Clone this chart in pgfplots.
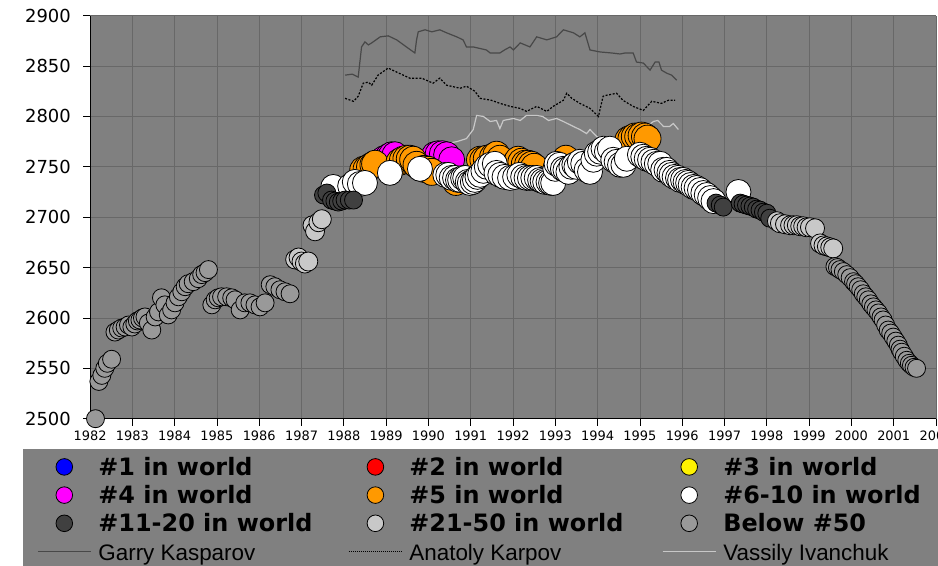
\documentclass[border=0pt]{standalone}
\usepackage{pgfplots}
\pgfplotsset{compat=1.18}
\usepackage{fontspec}
\setmainfont{DejaVu Sans}
\newfontfamily\namefont{Liberation Sans}
\definecolor{bgray}{HTML}{808080}
\definecolor{gridgray}{HTML}{686868}
\definecolor{cB}{HTML}{999999}
\definecolor{cL}{HTML}{C8C8C8}
\definecolor{cD}{HTML}{404040}
\definecolor{cO}{HTML}{FF9900}
\definecolor{cM}{HTML}{FF00FF}
\definecolor{kasp}{HTML}{484848}
\definecolor{ivan}{HTML}{C8C8C8}
\newcommand{\lb}{\fontsize{24}{24}\selectfont\bfseries}
\newcommand{\lnm}{\namefont\fontsize{22.5}{22.5}\selectfont}
\pgfplotstableread{
x y
1982.13 2500
1982.21 2537
1982.28 2543
1982.35 2550
1982.41 2555
1982.51 2559
1982.59 2586
1982.67 2588
1982.75 2590
1982.83 2591
1982.91 2593
1982.99 2591
1983.06 2594
1983.12 2597
1983.18 2598
1983.24 2600
1983.30 2601
1983.38 2595
1983.46 2588
1983.54 2601
1983.62 2606
1983.69 2620
1983.77 2613
1983.85 2603
1983.93 2608
1984.01 2615
1984.09 2621
1984.17 2626
1984.25 2631
1984.32 2634
1984.44 2636
1984.56 2639
1984.64 2643
1984.72 2645
1984.80 2648
1984.88 2613
1984.96 2618
1985.03 2620
1985.11 2621
1985.23 2621
1985.35 2620
1985.43 2618
1985.55 2608
1985.66 2615
1985.78 2615
1985.90 2613
1986.02 2611
1986.14 2615
1986.26 2633
1986.37 2631
1986.49 2628
1986.61 2626
1986.73 2624
1999.61 2651
1999.67 2650
1999.73 2648
1999.81 2646
1999.89 2643
1999.97 2640
2000.05 2636
2000.10 2634
2000.16 2631
2000.22 2628
2000.28 2624
2000.34 2621
2000.40 2618
2000.46 2614
2000.52 2611
2000.58 2608
2000.64 2605
2000.70 2601
2000.75 2598
2000.81 2593
2000.87 2588
2000.93 2585
2000.99 2581
2001.05 2577
2001.11 2573
2001.15 2569
2001.19 2566
2001.25 2562
2001.31 2558
2001.37 2555
2001.42 2553
2001.48 2551
2001.54 2550
}\below
\pgfplotstableread{
x y
1986.85 2658
1986.93 2660
1987.00 2656
1987.08 2654
1987.16 2656
1987.26 2692
1987.32 2686
1987.40 2695
1987.48 2698
1998.24 2696
1998.31 2694
1998.43 2693
1998.55 2692
1998.63 2692
1998.71 2692
1998.79 2691
1998.86 2691
1998.94 2690
1999.02 2690
1999.14 2689
1999.26 2674
1999.34 2672
1999.42 2671
1999.50 2670
1999.57 2669
}\lgray
\pgfplotstableread{
x y
1987.52 2722
1987.60 2724
1987.71 2717
1987.79 2716
1987.87 2715
1987.95 2716
1988.03 2717
1988.13 2717
1988.23 2717
1996.80 2714
1996.90 2712
1996.97 2710
1997.37 2714
1997.44 2713
1997.52 2712
1997.60 2711
1997.68 2710
1997.76 2708
1997.84 2707
1997.92 2705
1998.00 2704
1998.07 2699
}\dgray
\pgfplotstableread{
x y
1987.75 2730
1988.15 2731
1988.26 2735
1988.38 2733
1988.50 2734
1989.09 2744
1989.80 2748
1990.40 2742
1990.47 2742
1990.55 2739
1990.63 2739
1990.70 2737
1990.75 2737
1990.82 2739
1990.87 2739
1990.93 2735
1990.98 2734
1991.05 2735
1991.10 2737
1991.16 2740
1991.22 2742
1991.30 2746
1991.38 2750
1991.46 2752
1991.57 2753
1991.61 2744
1991.70 2742
1991.80 2740
1991.93 2739
1992.05 2740
1992.15 2742
1992.24 2740
1992.32 2739
1992.40 2739
1992.48 2739
1992.56 2739
1992.64 2737
1992.70 2736
1992.76 2735
1992.84 2735
1992.90 2734
1992.95 2734
1993.00 2748
1993.03 2753
1993.10 2752
1993.18 2748
1993.24 2747
1993.31 2745
1993.38 2750
1993.45 2752
1993.50 2750
1993.58 2755
1993.66 2753
1993.74 2747
1993.82 2745
1993.90 2757
1993.98 2763
1994.06 2765
1994.14 2768
1994.22 2765
1994.29 2768
1994.37 2757
1994.45 2755
1994.53 2752
1994.61 2752
1994.69 2758
1995.00 2762
1995.08 2760
1995.16 2758
1995.24 2757
1995.32 2755
1995.40 2753
1995.48 2753
1995.55 2747
1995.63 2747
1995.70 2744
1995.75 2742
1995.82 2740
1995.90 2739
1995.95 2737
1996.02 2737
1996.08 2735
1996.14 2734
1996.20 2732
1996.27 2730
1996.34 2729
1996.42 2727
1996.50 2724
1996.58 2722
1996.66 2719
1996.74 2716
1997.33 2725
}\white
\pgfplotstableread{
x y
1988.46 2747
1988.54 2748
1988.62 2750
1988.70 2752
1988.74 2753
1989.32 2755
1989.40 2757
1989.48 2758
1989.56 2758
1989.64 2757
1989.72 2752
1989.90 2748
1990.00 2747
1990.08 2745
1990.65 2735
1991.22 2757
1991.30 2757
1991.38 2758
1991.53 2760
1991.61 2762
1991.69 2758
1992.05 2753
1992.12 2757
1992.20 2755
1992.28 2753
1992.36 2753
1992.44 2752
1992.50 2750
1993.25 2758
1994.73 2777
1994.80 2778
1994.88 2780
1994.96 2780
1995.04 2781
1995.12 2780
1995.18 2778
}\orange
\pgfplotstableread{
x y
1988.78 2753
1988.86 2755
1988.95 2758
1989.05 2760
1989.13 2762
1989.21 2762
1990.15 2762
1990.23 2763
1990.33 2763
1990.43 2762
1990.55 2757
}\magenta
\pgfplotstableread{
x y
1988.03 2841
1988.20 2842
1988.34 2839
1988.42 2869
1988.50 2874
1988.58 2871
1988.66 2873
1988.76 2876
1988.86 2879
1989.05 2880
1989.25 2876
1989.48 2869
1989.68 2863
1989.72 2876
1989.76 2884
1989.92 2886
1990.08 2884
1990.27 2886
1990.43 2883
1990.67 2879
1990.82 2876
1990.90 2869
1991.06 2869
1991.37 2866
1991.46 2863
1991.69 2863
1991.80 2866
1991.93 2869
1992.01 2866
1992.17 2873
1992.40 2869
1992.56 2879
1992.80 2876
1993.03 2879
1993.19 2886
1993.43 2883
1993.58 2879
1993.70 2883
1993.82 2866
1994.06 2864
1994.33 2863
1994.53 2862
1994.65 2863
1994.84 2863
1994.92 2854
1995.08 2853
1995.24 2846
1995.36 2854
1995.45 2854
1995.51 2846
1995.63 2843
1995.75 2841
1995.87 2836
}\kasparov
\pgfplotstableread{
x y
1988.03 2818
1988.23 2815
1988.34 2820
1988.46 2833
1988.58 2834
1988.66 2831
1988.81 2841
1989.05 2848
1989.25 2844
1989.56 2838
1989.84 2838
1990.11 2833
1990.27 2838
1990.43 2831
1990.75 2828
1990.90 2830
1991.10 2825
1991.22 2818
1991.49 2816
1991.69 2813
1991.93 2810
1992.17 2808
1992.32 2805
1992.56 2810
1992.80 2805
1992.95 2810
1993.19 2816
1993.27 2823
1993.39 2818
1993.58 2813
1993.82 2808
1994.02 2800
1994.13 2820
1994.21 2821
1994.45 2823
1994.60 2816
1994.84 2810
1995.08 2806
1995.28 2815
1995.51 2813
1995.67 2816
1995.83 2816
}\karpov
\pgfplotstableread{
x y
1990.30 2770
1990.43 2773
1990.67 2775
1990.90 2778
1991.06 2787
1991.14 2801
1991.30 2800
1991.46 2795
1991.61 2796
1991.69 2788
1991.77 2796
1992.01 2798
1992.17 2796
1992.32 2801
1992.56 2801
1992.70 2800
1992.84 2796
1993.03 2798
1993.19 2795
1993.43 2790
1993.58 2787
1993.74 2783
1993.82 2787
1993.98 2780
1994.14 2778
1994.30 2776
1994.50 2778
1994.80 2782
1995.10 2788
1995.32 2795
1995.42 2796
1995.56 2790
1995.70 2790
1995.79 2793
1995.91 2787
}\ivanchuk
\begin{document}
\begin{tikzpicture}
\begin{axis}[
  scale only axis, width=846bp, height=403bp,
  at={(90bp,147.3bp)}, anchor=south west,
  xmin=1982, xmax=2002, ymin=2500, ymax=2900,
  xtick distance=1, ytick distance=50,
  axis lines*=left, axis line style={-, black, line width=0.8bp},
  axis background/.style={fill=bgray},
  grid=major, grid style={gridgray, line width=0.8bp},
  tick align=outside, major tick length=7bp, tick style={black, line width=0.8bp},
  /pgf/number format/1000 sep={}, /pgf/number format/assume math mode=true,
  xticklabel style={font=\fontsize{13}{13}\selectfont, inner sep=0pt, yshift=-5bp},
  yticklabel style={font=\fontsize{18}{18}\selectfont, inner sep=0pt, xshift=-12bp},
  clip=false,
  legend columns=3,
  legend cell align=left,
  legend style={draw=none, fill=bgray, inner xsep=14bp, inner ysep=3.6bp,
    at={(-0.0792,-0.0752)}, anchor=north west,
    nodes={inner sep=0pt, text height=22.6bp, text depth=5.6bp},
    row sep=0pt, column sep=0pt,
    /tikz/every odd column/.append style={column sep=7bp}},
]
\addplot[forget plot, kasp, line width=1.2bp] table {\kasparov};
\addplot[forget plot, black, line width=1.2bp, dash pattern=on 2bp off 1.6bp] table {\karpov};
\addplot[forget plot, ivan, line width=1.2bp] table {\ivanchuk};
\addplot[forget plot, only marks, mark=*, mark size=13bp, mark options={draw=black, fill=cM, line width=0.8bp}] table {\magenta};
\addplot[forget plot, only marks, mark=*, mark size=13.5bp, mark options={draw=black, fill=cO, line width=0.8bp}] table {\orange};
\addplot[forget plot, only marks, mark=*, mark size=12.5bp, mark options={draw=black, fill=white, line width=0.8bp}] table {\white};
\addplot[forget plot, only marks, mark=*, mark size=9bp, mark options={draw=black, fill=cD, line width=0.8bp}] table {\dgray};
\addplot[forget plot, only marks, mark=*, mark size=9.5bp, mark options={draw=black, fill=cL, line width=0.8bp}] table {\lgray};
\addplot[forget plot, only marks, mark=*, mark size=9bp, mark options={draw=black, fill=cB, line width=0.8bp}] table {\below};
\addlegendimage{legend image code/.code={\path[draw=none,fill=none] (0bp,0bp) rectangle (53bp,0bp); \draw[black, fill=blue, line width=0.8bp] (26.5bp,0bp) circle[radius=8.3bp];}}
\addlegendentry{\makebox[250bp][l]{\lb \#1 in world}}
\addlegendimage{legend image code/.code={\path[draw=none,fill=none] (0bp,0bp) rectangle (53bp,0bp); \draw[black, fill=red, line width=0.8bp] (26.5bp,0bp) circle[radius=8.3bp];}}
\addlegendentry{\makebox[252.7bp][l]{\lb \#2 in world}}
\addlegendimage{legend image code/.code={\path[draw=none,fill=none] (0bp,0bp) rectangle (53bp,0bp); \draw[black, fill=yellow, line width=0.8bp] (26.5bp,0bp) circle[radius=8.3bp];}}
\addlegendentry{\makebox[230bp][l]{\lb \#3 in world}}
\addlegendimage{legend image code/.code={\path[draw=none,fill=none] (0bp,0bp) rectangle (53bp,0bp); \draw[black, fill=cM, line width=0.8bp] (26.5bp,0bp) circle[radius=8.3bp];}}
\addlegendentry{\makebox[250bp][l]{\lb \#4 in world}}
\addlegendimage{legend image code/.code={\path[draw=none,fill=none] (0bp,0bp) rectangle (53bp,0bp); \draw[black, fill=cO, line width=0.8bp] (26.5bp,0bp) circle[radius=8.3bp];}}
\addlegendentry{\makebox[252.7bp][l]{\lb \#5 in world}}
\addlegendimage{legend image code/.code={\path[draw=none,fill=none] (0bp,0bp) rectangle (53bp,0bp); \draw[black, fill=white, line width=0.8bp] (26.5bp,0bp) circle[radius=8.3bp];}}
\addlegendentry{\makebox[230bp][l]{\lb \#6-10 in world}}
\addlegendimage{legend image code/.code={\path[draw=none,fill=none] (0bp,0bp) rectangle (53bp,0bp); \draw[black, fill=cD, line width=0.8bp] (26.5bp,0bp) circle[radius=8.3bp];}}
\addlegendentry{\makebox[250bp][l]{\lb \#11-20 in world}}
\addlegendimage{legend image code/.code={\path[draw=none,fill=none] (0bp,0bp) rectangle (53bp,0bp); \draw[black, fill=cL, line width=0.8bp] (26.5bp,0bp) circle[radius=8.3bp];}}
\addlegendentry{\makebox[252.7bp][l]{\lb \#21-50 in world}}
\addlegendimage{legend image code/.code={\path[draw=none,fill=none] (0bp,0bp) rectangle (53bp,0bp); \draw[black, fill=cB, line width=0.8bp] (26.5bp,0bp) circle[radius=8.3bp];}}
\addlegendentry{\makebox[230bp][l]{\lb Below \#50}}
\addlegendimage{legend image code/.code={\draw[kasp, line width=1.2bp] (0bp,0bp) -- (53bp,0bp);}}
\addlegendentry{\makebox[250bp][l]{\lnm Garry Kasparov}}
\addlegendimage{legend image code/.code={\draw[black, line width=1bp, densely dotted] (0bp,0bp) -- (53bp,0bp);}}
\addlegendentry{\makebox[252.7bp][l]{\lnm Anatoly Karpov}}
\addlegendimage{legend image code/.code={\draw[ivan, line width=1.2bp] (0bp,0bp) -- (53bp,0bp);}}
\addlegendentry{\makebox[230bp][l]{\lnm Vassily Ivanchuk}}
\end{axis}
\pgfresetboundingbox
\path (0bp,0bp) rectangle (938bp,566bp);
\end{tikzpicture}
\end{document}
